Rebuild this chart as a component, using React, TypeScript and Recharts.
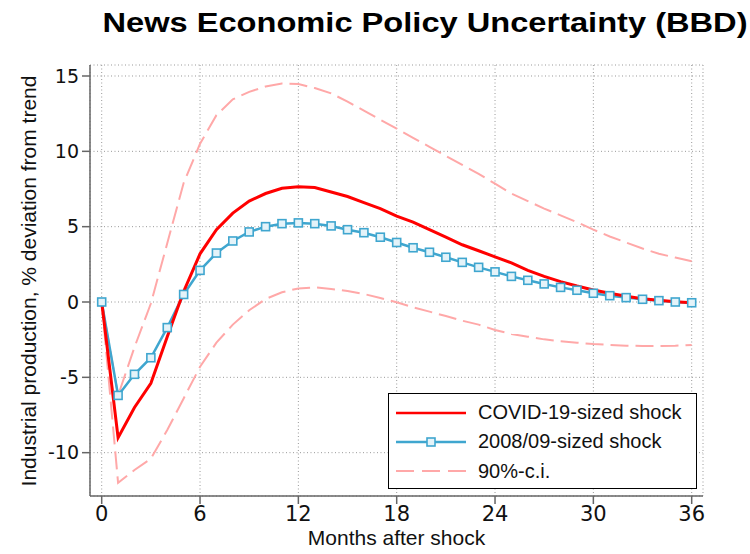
import React from "react";
import {
  CartesianGrid,
  Legend,
  Line,
  LineChart,
  XAxis,
  YAxis,
} from "recharts";

// months after the shock
const months = Array.from({ length: 37 }, (_, i) => i);

// COVID-19-sized shock
const covid = [
  0, -9.0, -7.0, -5.4, -2.3, 0.7, 3.2, 4.8, 5.9, 6.7, 7.2, 7.55, 7.65, 7.6, 7.3,
  7.0, 6.6, 6.2, 5.7, 5.3, 4.8, 4.3, 3.8, 3.4, 3.0, 2.6, 2.1, 1.7, 1.35, 1.06,
  0.8, 0.58, 0.38, 0.22, 0.11, 0.02, -0.05,
];

// 2008/09-sized shock
const gfc = [
  0, -6.2, -4.8, -3.7, -1.7, 0.5, 2.1, 3.25, 4.05, 4.65, 5.0, 5.2, 5.25, 5.2,
  5.05, 4.8, 4.6, 4.3, 3.95, 3.6, 3.3, 2.97, 2.63, 2.3, 2.0, 1.7, 1.44, 1.2,
  0.97, 0.78, 0.58, 0.42, 0.29, 0.18, 0.09, 0.0, -0.05,
];

// 90% confidence band
const ciUpper = [
  0, -6.2, -3.0, -0.1, 3.9, 7.9, 10.5, 12.4, 13.45, 13.95, 14.3, 14.5, 14.47,
  14.2, 13.85, 13.3, 12.7, 12.1, 11.5, 10.9, 10.3, 9.7, 9.1, 8.5, 7.85, 7.2,
  6.7, 6.2, 5.75, 5.3, 4.8, 4.35, 3.95, 3.55, 3.2, 2.95, 2.7,
];
const ciLower = [
  0, -12.0, -11.15, -10.4, -8.5, -6.4, -4.3, -2.7, -1.5, -0.55, 0.2, 0.65, 0.9,
  0.97, 0.86, 0.73, 0.53, 0.27, -0.02, -0.35, -0.64, -0.93, -1.24, -1.5, -1.86,
  -2.12, -2.3, -2.48, -2.61, -2.7, -2.79, -2.85, -2.9, -2.92, -2.92, -2.9,
  -2.85,
];

const xTicks = [0, 6, 12, 18, 24, 30, 36];
const yTicks = [-10, -5, 0, 5, 10, 15];

const RED = "#ff0000";
const BLUE = "#3fa6cf";
const PINK = "#ffa8a8";
const AXIS = "#666666";

const data = months.map((m, i) => ({
  month: m,
  covid: covid[i],
  gfc: gfc[i],
  upper: ciUpper[i],
  lower: ciLower[i],
}));

const SquareDot = (props: any) => {
  const { cx, cy, index } = props;
  if (cx == null || cy == null) return <g key={index} />;
  return (
    <rect
      key={index}
      x={cx - 4}
      y={cy - 4}
      width={8}
      height={8}
      fill="#e4f3f9"
      stroke={BLUE}
      strokeWidth={1.6}
    />
  );
};

const LegendBox = () => {
  const rows = [
    { label: "COVID-19-sized shock", kind: "red" },
    { label: "2008/09-sized shock", kind: "blue" },
    { label: "90%-c.i.", kind: "ci" },
  ];
  return (
    <div
      style={{
        width: 309,
        height: 96,
        boxSizing: "border-box",
        border: "1.5px solid #000",
        background: "#fff",
        paddingTop: 4,
        fontFamily: "'Liberation Sans', Arial, sans-serif",
        fontSize: 20,
        color: "#111",
      }}
    >
      {rows.map((r) => (
        <div
          key={r.label}
          style={{ display: "flex", alignItems: "center", height: 29.3 }}
        >
          <svg width={70} height={12} style={{ marginLeft: 7, marginRight: 12 }}>
            {r.kind === "red" && (
              <line x1={0} y1={6} x2={70} y2={6} stroke={RED} strokeWidth={2.5} />
            )}
            {r.kind === "blue" && (
              <>
                <line x1={0} y1={6} x2={70} y2={6} stroke={BLUE} strokeWidth={2.5} />
                <rect x={31} y={2} width={8} height={8} fill="#e4f3f9" stroke={BLUE} strokeWidth={1.6} />
              </>
            )}
            {r.kind === "ci" && (
              <line
                x1={0}
                y1={6}
                x2={70}
                y2={6}
                stroke={PINK}
                strokeWidth={2}
                strokeDasharray="18 8"
              />
            )}
          </svg>
          <span>{r.label}</span>
        </div>
      ))}
    </div>
  );
};

export default function App() {
  return (
    <div
      style={{
        position: "absolute",
        left: 0,
        top: 0,
        width: 750,
        height: 554,
        background: "#fff",
      }}
    >
      <LineChart
        width={750}
        height={554}
        data={data}
        margin={{ top: 65, right: 47, bottom: 0, left: 0 }}
      >
        <CartesianGrid
          stroke="#999"
          strokeDasharray="1 2.5"
          verticalPoints={undefined}
        />
        <XAxis
          dataKey="month"
          type="number"
          domain={[-0.714, 36.69]}
          ticks={xTicks}
          allowDataOverflow
          height={58}
          stroke={AXIS}
          strokeWidth={1.5}
          tickSize={8}
          tickMargin={2}
          tick={{
            fill: "#111",
            fontSize: 21,
            fontFamily: "'DejaVu Sans', sans-serif",
          }}
        />
        <YAxis
          type="number"
          domain={[-12.876, 15.73]}
          ticks={yTicks}
          allowDataOverflow
          width={90}
          stroke={AXIS}
          strokeWidth={1.5}
          tickSize={8}
          tickMargin={3}
          tick={{
            fill: "#111",
            fontSize: 19,
            fontFamily: "'DejaVu Sans', sans-serif",
          }}
        />
        <Line
          dataKey="upper"
          type="linear"
          stroke={PINK}
          strokeWidth={2}
          strokeDasharray="18 7"
          dot={false}
          isAnimationActive={false}
        />
        <Line
          dataKey="lower"
          type="linear"
          stroke={PINK}
          strokeWidth={2}
          strokeDasharray="18 7"
          dot={false}
          isAnimationActive={false}
        />
        <Line
          dataKey="gfc"
          type="linear"
          stroke={BLUE}
          strokeWidth={2.5}
          dot={SquareDot}
          isAnimationActive={false}
        />
        <Line
          dataKey="covid"
          type="linear"
          stroke={RED}
          strokeWidth={3}
          dot={false}
          isAnimationActive={false}
        />
        <Legend
          layout="vertical"
          align="center"
          verticalAlign="middle"
          content={() => <LegendBox />}
          wrapperStyle={{ left: 388, top: 393, width: 309, height: 96 }}
        />
      </LineChart>
      <svg
        width={750}
        height={554}
        style={{ position: "absolute", left: 0, top: 0, pointerEvents: "none" }}
      >
        <text
          x={425}
          y={32}
          textAnchor="middle"
          fontFamily="'Liberation Sans', Arial, sans-serif"
          fontWeight="bold"
          fontSize={27}
          textLength={645}
          lengthAdjust="spacingAndGlyphs"
          fill="#000"
        >
          News Economic Policy Uncertainty (BBD)
        </text>
        <text
          x={396.5}
          y={545}
          textAnchor="middle"
          fontFamily="'Liberation Sans', Arial, sans-serif"
          fontSize={21}
          fill="#111"
        >
          Months after shock
        </text>
        <text
          transform="translate(36,281) rotate(-90)"
          textAnchor="middle"
          fontFamily="'Liberation Sans', Arial, sans-serif"
          fontSize={21}
          fill="#111"
        >
          Industrial production, % deviation from trend
        </text>
      </svg>
    </div>
  );
}
